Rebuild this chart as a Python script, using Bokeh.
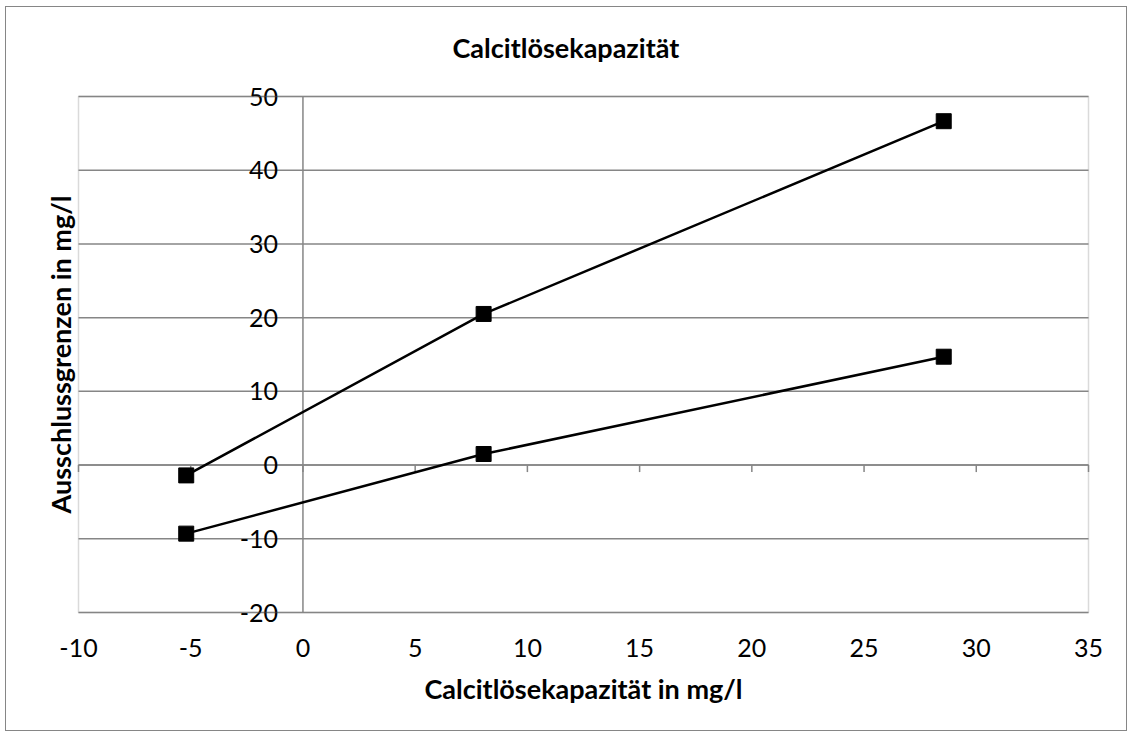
import math
from bokeh.plotting import figure
from bokeh.models import Title, FixedTicker, BoxAnnotation
from bokeh.core.properties import value
from bokeh.embed import file_html
from bokeh.resources import INLINE

# ---- data ----
x_vals = [-5.2, 8.05, 28.55]
upper_vals = [-1.4, 20.5, 46.65]
lower_vals = [-9.3, 1.5, 14.7]
x_ticks = [-10, -5, 0, 5, 10, 15, 20, 25, 30, 35]
y_ticks = [-20, -10, 0, 10, 20, 30, 40, 50]
title_text = "Calcitlösekapazität"
x_label = "Calcitlösekapazität in mg/l"
y_label = "Ausschlussgrenzen in mg/l"

GRAY = "#868686"
FONT = "Lato"
TICK_SIZE = "25px"
LABEL_SIZE = "27px"

# plot box is 1010 x 516 px; the frame is padded so edge labels are not clipped
BOX_W, BOX_H = 1010, 516
PAD_X, PAD_Y = 2, 15
xmin, xmax = x_ticks[0], x_ticks[-1]
ymin, ymax = y_ticks[0], y_ticks[-1]
dx = PAD_X * (xmax - xmin) / BOX_W
dy = PAD_Y * (ymax - ymin) / BOX_H

p = figure(width=1122, height=725,
           x_range=(xmin - dx, xmax + dx), y_range=(ymin - dy, ymax + dy),
           output_backend="svg", toolbar_location=None,
           min_border_left=78 - PAD_X - 6, min_border_right=1122 - (1088 + PAD_X - 6),
           min_border_top=96 - PAD_Y - 7, min_border_bottom=725 - (612 + PAD_Y - 7),
           x_axis_label=x_label)
p.background_fill_color = "white"
p.border_fill_color = "white"
p.outline_line_color = None
p.styles = {"border": "1px solid " + GRAY, "margin-left": "5px", "margin-top": "6px"}

# title
p.title.text = title_text
p.title.align = "left"
p.title.offset = 376
p.title.text_font = FONT
p.title.text_font_size = LABEL_SIZE
p.title.text_font_style = "bold"
p.title.text_color = "black"
p.title.standoff = 36

# y label as a left title
p.add_layout(Title(text=y_label, align="center", text_font=FONT,
                   text_font_size=LABEL_SIZE, text_font_style="bold",
                   text_color="black", standoff=0), "left")

# bottom axis: labels only
xa = p.xaxis[0]
xa.ticker = FixedTicker(ticks=x_ticks)
xa.major_label_overrides = {t: str(t) for t in x_ticks}
xa.axis_line_color = None
xa.major_tick_line_color = None
xa.minor_tick_line_color = None
xa.major_tick_in = 0
xa.major_tick_out = 0
xa.major_label_standoff = 26 - PAD_Y
xa.major_label_text_font = FONT
xa.major_label_text_font_size = TICK_SIZE
xa.major_label_text_color = "black"
xa.axis_label_standoff = 12
xa.axis_label_text_font = FONT
xa.axis_label_text_font_size = LABEL_SIZE
xa.axis_label_text_font_style = "bold"
xa.axis_label_text_color = "black"

p.yaxis.visible = False
p.xgrid.visible = False
p.ygrid.visible = False

# horizontal gridlines
p.segment(x0=[xmin] * len(y_ticks), x1=[xmax] * len(y_ticks), y0=y_ticks, y1=y_ticks,
          line_color=GRAY, line_width=1.5)
# y axis line at x = 0 and x axis line at y = 0 with downward ticks
p.segment(x0=[0], x1=[0], y0=[ymin], y1=[ymax], line_color=GRAY, line_width=1.5)
p.segment(x0=[xmin], x1=[xmax], y0=[0], y1=[0], line_color=GRAY, line_width=1.5)
p.ray(x=x_ticks, y=[0] * len(x_ticks), length=7, length_units="screen",
      angle=-math.pi / 2, line_color=GRAY, line_width=1.5)

# plot-area border
p.add_layout(BoxAnnotation(left=xmin, right=xmax, bottom=ymin, top=ymax,
                           fill_color=None, line_color=GRAY, line_width=1.5))

# y tick labels left of the y axis
p.text(x=[0] * len(y_ticks), y=y_ticks, text=[str(t) for t in y_ticks],
       x_offset=-25, text_align="right", text_baseline="middle",
       text_font=value(FONT), text_font_size=value(TICK_SIZE), text_color="black")

# series
for ys in (upper_vals, lower_vals):
    p.line(x_vals, ys, line_color="black", line_width=2.5)
    p.scatter(x_vals, ys, marker="square", size=15, fill_color="black",
              line_color="black")

open("out.html", "w").write(file_html(p, INLINE))
